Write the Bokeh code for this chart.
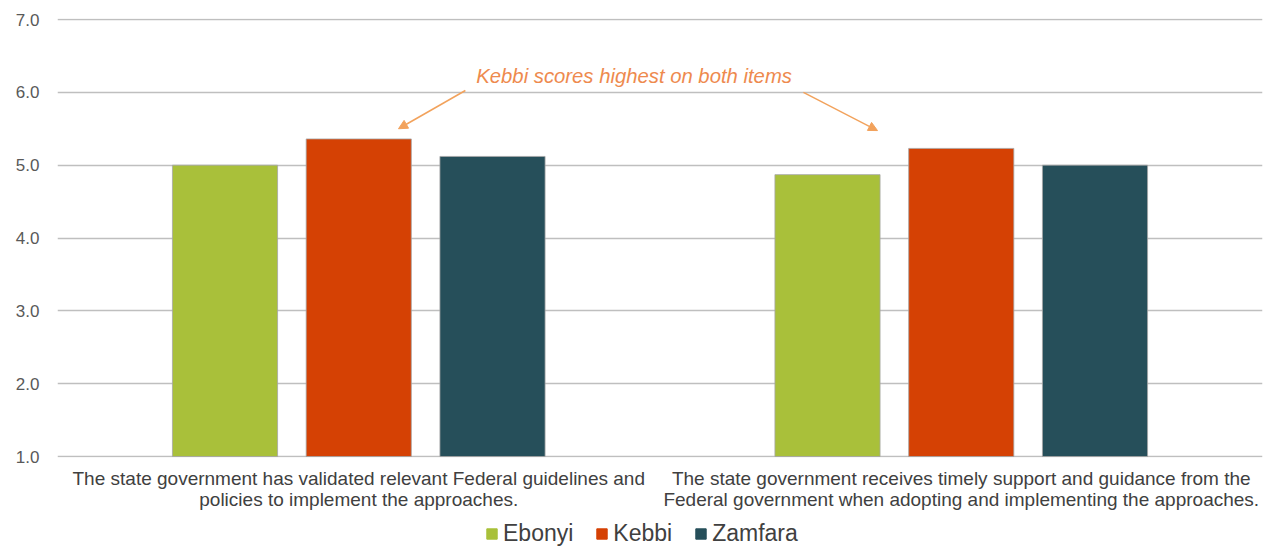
from bokeh.plotting import figure
from bokeh.layouts import column
from bokeh.models import (ColumnDataSource, FactorRange, Range1d, Legend, LegendItem,
                          Label, Arrow, NormalHead, FixedTicker, NumeralTickFormatter)
from bokeh.transform import dodge
from bokeh.embed import file_html
from bokeh.resources import INLINE

categories = [
    "The state government has validated relevant Federal guidelines and\npolicies to implement the approaches.",
    "The state government receives timely support and guidance from the\nFederal government when adopting and implementing the approaches.",
]
series = ["Ebonyi", "Kebbi", "Zamfara"]
ebonyi = [5.00, 4.87]
kebbi = [5.36, 5.23]
zamfara = [5.12, 5.00]
y_ticks = [1, 2, 3, 4, 5, 6, 7]
annotation = "Kebbi scores highest on both items"

colors = ["#A9C03A", "#D54104", "#264F5A"]
FONT = "Liberation Sans"

src = ColumnDataSource(dict(cat=categories, Ebonyi=ebonyi, Kebbi=kebbi, Zamfara=zamfara))

px_per_unit = 437 / 6.0
eps = 1.0 / px_per_unit
p = figure(x_range=FactorRange(factors=categories, range_padding=0),
           y_range=Range1d(y_ticks[0] - eps, y_ticks[-1] + eps),
           frame_width=1205, frame_height=439, output_backend="svg", toolbar_location=None,
           min_border_left=57, min_border_right=6, min_border_top=18, min_border_bottom=62)
p.outline_line_color = None
p.background_fill_color = "white"

bar_w = 0.1745
offs = [-0.222, 0.0, 0.222]
for name, off, col in zip(series, offs, colors):
    p.vbar(x=dodge("cat", off, range=p.x_range), top=name, bottom=1, width=bar_w,
           source=src, fill_color=col, line_color="#A6A6A6", line_width=0.8)

# axes
p.yaxis.ticker = FixedTicker(ticks=y_ticks)
p.yaxis.formatter = NumeralTickFormatter(format="0.0")
p.yaxis.axis_line_color = None
p.yaxis.major_tick_line_color = None
p.yaxis.minor_tick_line_color = None
p.yaxis.major_label_text_font = FONT
p.yaxis.major_label_text_font_size = "17px"
p.yaxis.major_label_text_color = "#595959"
p.yaxis.major_label_standoff = 12

p.xaxis.axis_line_color = None
p.xaxis.major_tick_line_color = None
p.xaxis.minor_tick_line_color = None
p.xaxis.major_label_text_font = FONT
p.xaxis.major_label_text_font_size = "19px"
p.xaxis.major_label_text_line_height = 1.02
p.xaxis.major_label_text_color = "#404040"
p.xaxis.major_label_standoff = 4

p.xgrid.grid_line_color = None
p.ygrid.grid_line_color = "#BFBFBF"
p.ygrid.grid_line_width = 1.5
p.ygrid.ticker = FixedTicker(ticks=y_ticks)

# annotation
p.add_layout(Label(x=0.957, y=6.23, text=annotation, text_font=FONT, text_font_size="20.3px",
                   text_font_style="italic", text_color="#EE8A4E", text_align="center",
                   text_baseline="middle"))
arrow_col = "#F2A25C"
for xs, ys, xe, ye in [(0.677, 6.025, 0.566, 5.50), (1.238, 6.00, 1.361, 5.475)]:
    p.add_layout(Arrow(x_start=xs, y_start=ys, x_end=xe, y_end=ye,
                       line_color=arrow_col, line_width=1.5,
                       end=NormalHead(size=9, fill_color=arrow_col, line_color=arrow_col)))

# legend in its own strip below the chart
lg = figure(width=1268, height=29, output_backend="svg", toolbar_location=None,
            x_range=Range1d(0, 1), y_range=Range1d(0, 1),
            min_border_left=0, min_border_right=0, min_border_top=0, min_border_bottom=0)
lg.axis.visible = False
lg.grid.visible = False
lg.outline_line_color = None
nan = float("nan")
items = []
for name, col in zip(series, colors):
    blank = ColumnDataSource(dict(x=[nan], top=[nan]))
    r = lg.vbar(x="x", top="top", width=0.1, source=blank, fill_color=col, line_color=col)
    items.append(LegendItem(label=name, renderers=[r]))
legend = Legend(items=items, orientation="horizontal", location=(428, 1),
                label_text_font=FONT, label_text_font_size="23px", label_text_color="#404040",
                glyph_width=13, glyph_height=13, spacing=22, label_standoff=5,
                border_line_color=None, background_fill_alpha=0, padding=0, margin=0)
lg.add_layout(legend, "center")

layout = column(p, lg, spacing=0)
open("out.html", "w").write(file_html(layout, INLINE))
